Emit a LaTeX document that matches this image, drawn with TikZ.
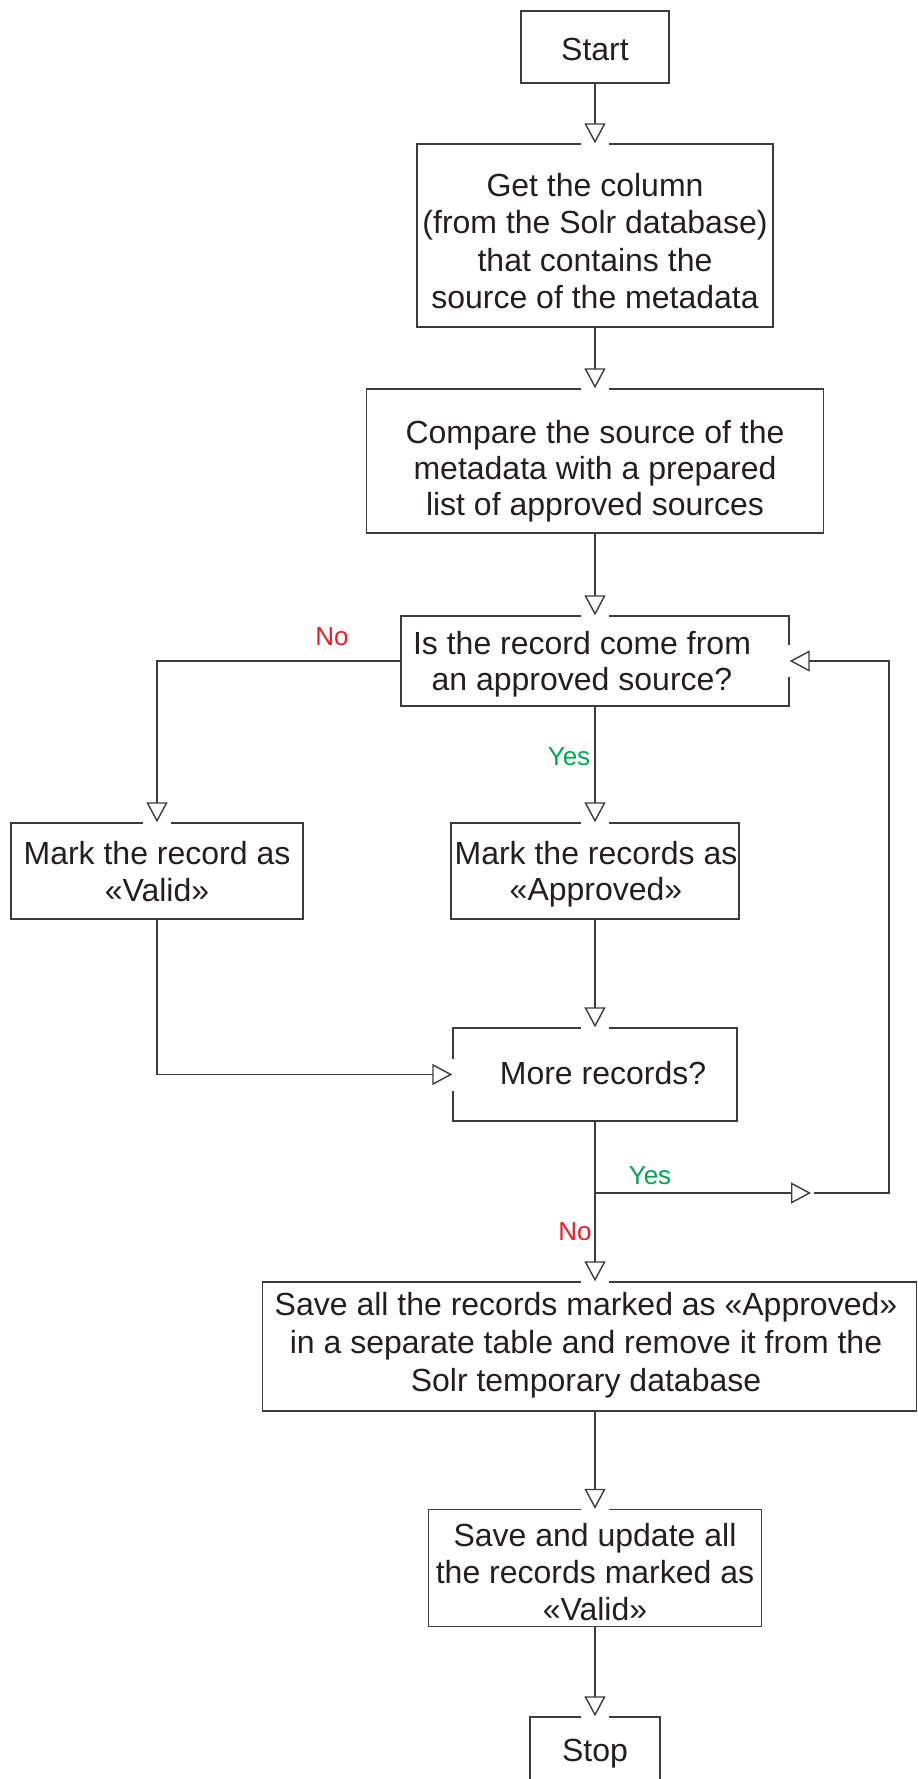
\documentclass[tikz,border=0pt]{standalone}
\usepackage{fontspec}
\setmainfont{Liberation Sans}
\usetikzlibrary{arrows.meta,calc}
\definecolor{ink}{HTML}{231F20}
\definecolor{rule}{HTML}{3C3C3C}
\definecolor{nored}{HTML}{ED1C24}
\definecolor{yesgreen}{HTML}{00A651}
\tikzset{
  box/.style={draw=rule, line width=0.7pt, inner sep=0pt},
  boxtext/.style={align=center, inner sep=0pt, text=ink,
    font=\fontsize{16pt}{#1}\selectfont},
  boxtext/.default=18.5pt,
  flow/.style={draw=rule, line width=0.7pt,
    -{Triangle[open, fill=white, length=10pt, width=10.5pt]}},
  nolbl/.style={text=nored, inner sep=0pt, font=\fontsize{13pt}{15pt}\selectfont},
  yeslbl/.style={text=yesgreen, inner sep=0pt, font=\fontsize{13pt}{15pt}\selectfont},
  gap/.style={fill=white, draw=none}
}
\begin{document}
\begin{tikzpicture}[x=0.5pt, y=-0.5pt]
\useasboundingbox (0,0) rectangle (917,1779);
\clip (0,0) rectangle (917,1779);

% frames of the process and decision boxes
\node[box, minimum width=74pt,    minimum height=36pt]   (start) at (595,47) {};
\node[box, minimum width=178pt,   minimum height=91.5pt] (get)   at (595,235.5) {};
\node[box, minimum width=228.5pt, minimum height=72pt]   (cmp)   at (595,461) {};
\node[box, minimum width=194pt,   minimum height=45pt]   (dec1)  at (595,661) {};
\node[box, minimum width=146pt,   minimum height=48pt]   (valid) at (157,871) {};
\node[box, minimum width=144pt,   minimum height=48pt]   (appr)  at (595,871) {};
\node[box, minimum width=142pt,   minimum height=46.5pt] (dec2)  at (595,1074.5) {};
\node[box, minimum width=327pt,   minimum height=64.5pt] (save)  at (589.5,1346.5) {};
\node[box, minimum width=166.5pt, minimum height=58.5pt] (upd)   at (595,1568) {};
\node[box, minimum width=65pt,    minimum height=36pt]   (stop)  at (595,1753) {};

% texts of the boxes
\node[boxtext] (start-t) at (595,49) {Start};
\node[boxtext=18.75pt] (get-t) at (595,241)
  {Get the column\\(from the Solr database)\\that contains the\\source of the metadata};
\node[boxtext=17.9pt] (cmp-t) at (595,471)
  {Compare the source of the\\metadata with a prepared\\list of approved sources};
\node[boxtext=18.2pt] (dec1-t) at (582,664) {Is the record come from\\an approved source?};
\node[boxtext=18.2pt] (valid-t) at (157,871.5) {Mark the record as\\«Valid»};
\node[boxtext=18.2pt] (appr-t) at (596,874.5) {Mark the records as\\«Approved»};
\node[boxtext] (dec2-t) at (603,1073) {More records?};
\node[boxtext=19pt] (save-t) at (586,1345.5)
  {Save all the records marked as «Approved»\\in a separate table and remove it from the\\Solr temporary database};
\node[boxtext=18.4pt] (upd-t) at (595,1572)
  {Save and update all\\the records marked as\\«Valid»};
\node[boxtext] (stop-t) at (595,1753.5) {Stop};

% helper points
\coordinate (savein) at (dec2.south |- save.north);
\coordinate (saveout) at (upd.north |- save.south);
\coordinate (j) at (595,1193);
\coordinate (ytip) at (811,1193);
\coordinate (yres) at (814,1193);
\coordinate (rc) at (889,1193);

% openings in the borders where the arrows enter
\foreach \p in {get.north, cmp.north, dec1.north, valid.north, appr.north,
                dec2.north, savein, upd.north, stop.north}
  \fill[gap] ($(\p)+(-14,-3)$) rectangle ($(\p)+(14,3)$);
\foreach \p in {dec1.east, dec2.west}
  \fill[gap] ($(\p)+(-3,-16)$) rectangle ($(\p)+(3,16)$);

% connectors
\draw[flow] (start.south) -- (get.north);
\draw[flow] (get.south) -- (cmp.north);
\draw[flow] (cmp.south) -- (dec1.north);
\draw[flow] (dec1.west) -| (valid.north);
\draw[flow] (dec1.south) -- (appr.north);
\draw[flow] (appr.south) -- (dec2.north);
\draw[flow] (valid.south) |- (dec2.west);
\draw[flow] (dec2.south) -- (savein);
\draw[flow] (j) -- (ytip);
\draw[flow] (yres) -- (rc) |- (dec1.east);
\draw[flow] (saveout) -- (upd.north);
\draw[flow] (upd.south) -- (stop.north);

% branch labels
\node[nolbl] (no1) at (332,637) {No};
\node[yeslbl] (yes1) at (569,757) {Yes};
\node[yeslbl] (yes2) at (650,1176) {Yes};
\node[nolbl] (no2) at (575,1232) {No};
\end{tikzpicture}
\end{document}
